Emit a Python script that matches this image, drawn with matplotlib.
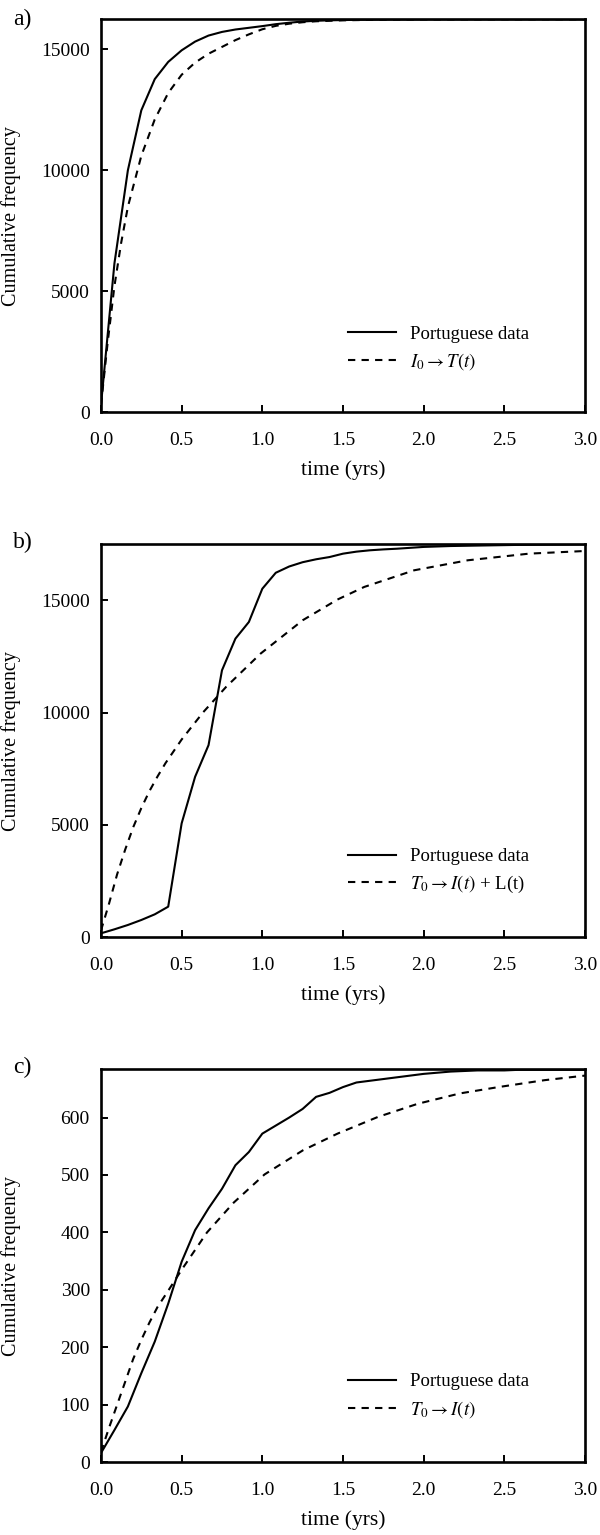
import numpy as np
import matplotlib
matplotlib.use("Agg")
import matplotlib.pyplot as plt

# monthly time grid for the observed (Portuguese) data
t_data = np.arange(37) / 12.0

# a) cumulative frequency, observed
data_a = [300, 6150, 10000, 12480, 13770, 14480, 14960, 15320, 15570, 15720,
          15820, 15890, 15960, 16040, 16100, 16150, 16180, 16200, 16210, 16220,
          16225, 16230, 16232, 16234, 16236, 16237, 16238, 16238, 16239, 16239,
          16240, 16240, 16240, 16240, 16240, 16240, 16240]
# a) model I0 -> T(t)
t_model_a = [0.0, 0.04, 0.083, 0.125, 0.167, 0.25, 0.333, 0.417, 0.5, 0.583,
             0.667, 0.75, 0.833, 0.917, 1.0, 1.083, 1.167, 1.25, 1.333, 1.5,
             1.75, 2.0, 2.5, 3.0]
model_a = [300, 2800, 5200, 7000, 8500, 10600, 12100, 13200, 13950, 14450,
           14820, 15100, 15380, 15620, 15830, 15970, 16060, 16120, 16160, 16200,
           16225, 16235, 16240, 16240]

# b) cumulative frequency, observed
data_b = [176, 354, 547, 769, 1021, 1362, 5070, 7140, 8550, 11880,
          13290, 14030, 15510, 16220, 16500, 16690, 16820, 16920, 17070, 17160,
          17220, 17260, 17290, 17330, 17370, 17390, 17410, 17420, 17430, 17440,
          17450, 17460, 17465, 17470, 17475, 17480, 17485]
# b) model T0 -> I(t) + L(t)
t_model_b = [0.0, 0.05, 0.1, 0.15, 0.2, 0.25, 0.3, 0.35, 0.4, 0.5,
             0.634, 0.776, 0.99, 1.251, 1.465, 1.632, 1.941, 2.273, 2.653, 3.0]
model_b = [300, 1500, 2800, 3900, 4900, 5750, 6500, 7150, 7750, 8800,
           10018, 11145, 12627, 14110, 15026, 15590, 16330, 16775, 17071, 17189]

# c) cumulative frequency, observed
data_c = [16, 56, 97, 155, 210, 276, 349, 404, 442, 476,
          517, 540, 572, 586, 600, 615, 636, 643, 653, 661,
          664, 667, 670, 673, 676, 678, 680, 681, 682, 682,
          682, 683, 683, 683, 683, 683, 683]
# c) model T0 -> I(t)
t_model_c = [0.0, 0.05, 0.1, 0.15, 0.2, 0.25, 0.3, 0.35, 0.42, 0.5,
             0.657, 0.823, 1.014, 1.252, 1.466, 1.716, 1.964, 2.225, 2.463, 2.748, 3.0]
model_c = [18, 60, 100, 140, 180, 213, 243, 270, 300, 335,
           400, 452, 501, 543, 572, 601, 624, 642, 653, 665, 673]

panel_tags = ["a)", "b)", "c)"]
model_labels = [r"$I_0 \rightarrow T(t)$",
                r"$T_0 \rightarrow I(t)$ + L(t)",
                r"$T_0 \rightarrow I(t)$"]
y_tops = [16240, 17500, 684]
y_ticks = [[0, 5000, 10000, 15000],
           [0, 5000, 10000, 15000],
           [0, 100, 200, 300, 400, 500, 600]]
x_ticks = [0.0, 0.5, 1.0, 1.5, 2.0, 2.5, 3.0]

plt.rcParams['font.family'] = ['Liberation Serif', 'DejaVu Serif']
plt.rcParams['mathtext.fontset'] = 'stix'

fig = plt.figure(figsize=(6.0, 15.35), dpi=100)

# axes boxes in figure fractions (left, bottom, width, height)
boxes = [[0.1683, 0.7314, 0.8067, 0.2560],
         [0.1683, 0.3894, 0.8067, 0.2562],
         [0.1683, 0.0474, 0.8067, 0.2560]]
legend_y = [0.220, 0.227, 0.227]
tag_y = [1 - 19 / 1535, 1 - 542 / 1535, 1 - 1067 / 1535]

observed = [data_a, data_b, data_c]
model_t = [t_model_a, t_model_b, t_model_c]
model_v = [model_a, model_b, model_c]

for i in range(3):
    ax = fig.add_axes(boxes[i])
    ax.plot(t_data, observed[i], color='black', lw=1.5, label='Portuguese data')
    ax.plot(model_t[i], model_v[i], color='black', lw=1.5, linestyle=(0, (3.5, 3)),
            label=model_labels[i])
    ax.set_xlim(0, 3.0)
    ax.set_ylim(0, y_tops[i])
    ax.set_xticks(x_ticks)
    ax.set_xticklabels(["%.1f" % v for v in x_ticks])
    ax.set_yticks(y_ticks[i])
    ax.tick_params(direction='in', length=5, width=1.4, labelsize=14,
                   top=False, right=False)
    ax.tick_params(axis='x', pad=14)
    ax.tick_params(axis='y', pad=8)
    for sp in ax.spines.values():
        sp.set_linewidth(1.9)
    ax.set_xlabel('time (yrs)', fontsize=15.5, labelpad=8)
    ax.set_ylabel('Cumulative frequency', fontsize=14.5)
    # keep the y labels of all three panels in one column, as in the original
    ax.yaxis.set_label_coords(-0.165, 0.5)
    ax.legend(loc='upper left', bbox_to_anchor=(0.51, legend_y[i]), frameon=False,
              fontsize=13.5, borderpad=0, borderaxespad=0, handlelength=2.55,
              handletextpad=0.75, labelspacing=0.45)
    fig.text(0.022, tag_y[i], panel_tags[i], fontsize=17, va='center', ha='left')

fig.savefig('out.png', dpi=100)
